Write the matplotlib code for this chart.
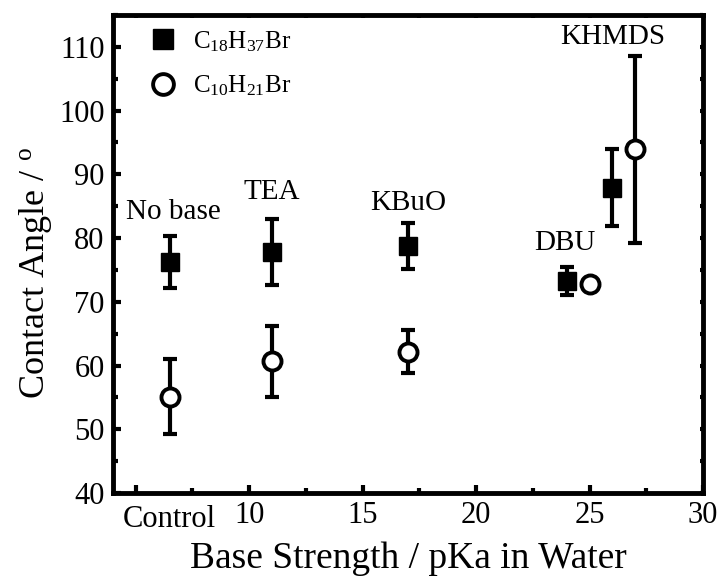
import matplotlib.pyplot as plt
from matplotlib.ticker import MultipleLocator

plt.rcParams["font.family"] = "Liberation Serif"
plt.rcParams["mathtext.fontset"] = "custom"
plt.rcParams["mathtext.rm"] = "Liberation Serif"
plt.rcParams["mathtext.it"] = "Liberation Serif"

# base strength (pKa), control placed at 6.5
c18_x = [6.5, 11, 17, 24, 26]
c18_y = [76.3, 77.8, 78.7, 73.2, 87.9]
c18_lo = [72.2, 72.7, 75.1, 71.0, 81.9]
c18_hi = [80.3, 83.0, 82.3, 75.5, 93.9]

c10_x = [6.5, 11, 17, 25, 27]
c10_y = [55.1, 60.7, 62.1, 72.8, 94.0]
c10_lo = [49.2, 55.1, 58.9, 72.8, 79.3]
c10_hi = [61.0, 66.2, 65.5, 72.8, 108.5]

base_names = ["No base", "TEA", "KBuO", "DBU", "KHMDS"]
name_x = [6.64, 11.0, 17.0, 23.9, 26.0]
name_y = [84.1, 87.3, 85.5, 79.2, 111.6]

fig = plt.figure(figsize=(7.23, 5.8), dpi=100)
ax = fig.add_axes([113 / 723, 1 - 493 / 580, 590 / 723, 478 / 580])

err_kw = dict(fmt="none", ecolor="black", elinewidth=3, capsize=5, capthick=3)
ax.errorbar(c18_x, c18_y,
            yerr=[[y - l for y, l in zip(c18_y, c18_lo)], [h - y for y, h in zip(c18_y, c18_hi)]],
            **err_kw)
ax.errorbar(c10_x, c10_y,
            yerr=[[y - l for y, l in zip(c10_y, c10_lo)], [h - y for y, h in zip(c10_y, c10_hi)]],
            **err_kw)
ax.plot(c18_x, c18_y, "s", markersize=13, color="black", label=r"C$_{18}$H$_{37}$Br", zorder=3)
ax.plot(c10_x, c10_y, "o", markersize=13, markerfacecolor="white", markeredgecolor="black",
        markeredgewidth=2.8, label=r"C$_{10}$H$_{21}$Br", zorder=3)

for name, x, y in zip(base_names, name_x, name_y):
    ax.text(x, y, name, ha="center", va="center", fontsize=21)

ax.set_xlim(4, 30)
ax.set_ylim(40, 115)
ax.xaxis.set_minor_locator(MultipleLocator(2.5))
ax.yaxis.set_major_locator(MultipleLocator(10))
ax.yaxis.set_minor_locator(MultipleLocator(5))
ax.set_xticks([5, 10, 15, 20, 25, 30])
ax.set_xticklabels(["", "10", "15", "20", "25", "30"])
ax.text(6.5, -0.025, "Control", transform=ax.get_xaxis_transform(), ha="center", va="top", fontsize=22)

ax.tick_params(which="major", direction="in", length=5.5, width=3, labelsize=22, pad=6)
ax.tick_params(which="minor", direction="in", length=3.5, width=3)
ax.tick_params(which="both", top=True, right=True, labeltop=False, labelright=False)
for s in ax.spines.values():
    s.set_linewidth(3.5)
# tiny ticks on top/right
for t in ax.xaxis.get_major_ticks() + ax.xaxis.get_minor_ticks():
    t.tick2line.set_markersize(2)
for t in ax.yaxis.get_major_ticks() + ax.yaxis.get_minor_ticks():
    t.tick2line.set_markersize(2)

ax.set_xlabel("Base Strength / pKa in Water", fontsize=27, labelpad=8)
ax.set_ylabel(r"Contact Angle / $^{\rm o}$", fontsize=26)
ax.yaxis.set_label_coords(-0.1, 0.46)

ax.legend(loc="upper left", bbox_to_anchor=(0.03, 1.007), frameon=False, fontsize=18,
          handletextpad=0.6, labelspacing=0.8, handlelength=1.2, borderaxespad=0.3,
          markerscale=1.15)

fig.savefig("out.png", dpi=100)
